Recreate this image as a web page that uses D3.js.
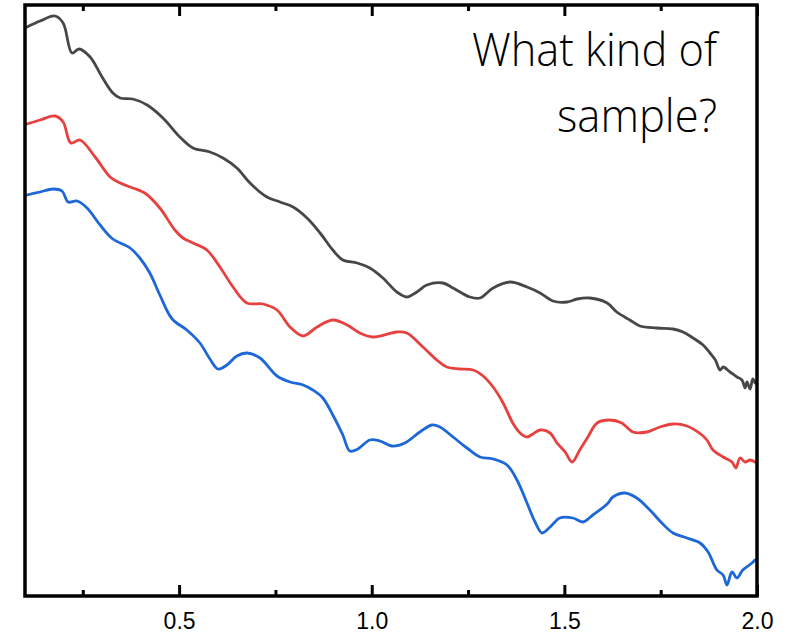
<!DOCTYPE html>
<html>
<head>
<meta charset="utf-8">
<script src="https://cdn.jsdelivr.net/npm/d3@7/dist/d3.min.js"></script>
<style>
  html, body { margin: 0; padding: 0; background: #fff; }
  svg { display: block; }
</style>
</head>
<body>
<svg id="chart" width="801" height="643"></svg>
<script>
// ---- Data (q in arbitrary units, intensity in arbitrary offset units) ----
const grayQ = [0.105,0.139,0.178,0.199,0.222,0.240,0.269,0.300,0.328,0.347,0.380,0.417,0.458,0.502,0.536,0.580,0.614,0.650,0.684,0.728,0.762,0.796,0.832,0.866,0.899,0.925,0.962,0.995,1.029,1.065,1.091,1.117,1.143,1.185,1.211,1.255,1.281,1.315,1.359,1.403,1.437,1.470,1.507,1.533,1.566,1.611,1.636,1.670,1.696,1.740,1.782,1.808,1.834,1.860,1.878,1.892,1.904,1.912,1.930,1.948,1.961,1.969,1.974,1.982,1.989,1.995];
const grayI = [5.69,5.75,5.80,5.73,5.43,5.47,5.39,5.19,5.03,4.98,4.97,4.91,4.78,4.59,4.48,4.44,4.38,4.28,4.13,3.99,3.94,3.89,3.78,3.63,3.46,3.36,3.33,3.28,3.18,3.04,2.99,3.04,3.11,3.13,3.08,2.99,2.98,3.08,3.14,3.09,3.03,2.95,2.94,2.97,2.98,2.93,2.84,2.76,2.70,2.68,2.67,2.64,2.58,2.51,2.43,2.36,2.26,2.29,2.24,2.19,2.16,2.08,2.14,2.07,2.17,2.13];

const redQ = [0.105,0.139,0.178,0.199,0.219,0.243,0.282,0.321,0.347,0.380,0.411,0.450,0.489,0.510,0.536,0.572,0.606,0.640,0.676,0.718,0.754,0.788,0.822,0.858,0.899,0.936,0.969,1.003,1.065,1.091,1.133,1.169,1.195,1.229,1.263,1.289,1.315,1.341,1.366,1.385,1.403,1.418,1.437,1.463,1.481,1.502,1.520,1.540,1.561,1.585,1.618,1.649,1.678,1.714,1.748,1.782,1.818,1.857,1.870,1.886,1.912,1.935,1.945,1.956,1.969,1.982,1.995];
const redI = [4.72,4.76,4.80,4.74,4.53,4.56,4.39,4.19,4.13,4.08,4.03,3.88,3.66,3.58,3.53,3.46,3.29,3.09,2.93,2.92,2.86,2.69,2.60,2.69,2.76,2.71,2.63,2.59,2.64,2.63,2.49,2.36,2.29,2.27,2.26,2.20,2.09,1.93,1.73,1.63,1.59,1.62,1.66,1.63,1.53,1.44,1.34,1.46,1.59,1.73,1.76,1.73,1.64,1.64,1.69,1.72,1.70,1.61,1.56,1.46,1.39,1.34,1.28,1.38,1.34,1.36,1.34];

const blueQ = [0.105,0.139,0.173,0.196,0.212,0.235,0.261,0.295,0.328,0.373,0.398,0.424,0.450,0.482,0.520,0.554,0.580,0.601,0.624,0.650,0.676,0.710,0.754,0.788,0.822,0.847,0.873,0.899,0.925,0.943,0.964,0.995,1.021,1.052,1.086,1.125,1.156,1.177,1.211,1.247,1.281,1.315,1.351,1.377,1.403,1.424,1.442,1.463,1.488,1.522,1.548,1.574,1.611,1.626,1.657,1.688,1.722,1.753,1.782,1.818,1.852,1.873,1.896,1.912,1.922,1.935,1.948,1.963,1.987,1.995];
const blueI = [4.01,4.04,4.07,4.05,3.94,3.95,3.88,3.71,3.57,3.48,3.38,3.23,3.01,2.77,2.66,2.53,2.37,2.27,2.31,2.40,2.43,2.38,2.20,2.14,2.11,2.06,1.98,1.81,1.61,1.45,1.47,1.56,1.55,1.50,1.53,1.64,1.71,1.69,1.59,1.48,1.39,1.37,1.31,1.16,0.93,0.74,0.63,0.69,0.78,0.78,0.74,0.81,0.92,0.99,1.03,0.98,0.86,0.73,0.63,0.58,0.53,0.44,0.26,0.21,0.11,0.24,0.18,0.26,0.33,0.36];

const majorTicks = [0.5, 1.0, 1.5, 2.0];
const minorTicks = [0.25, 0.75, 1.25, 1.75];
const tickLabels = ["0.5", "1.0", "1.5", "2.0"];
const annotation = ["What kind of", "sample?"];

const series = [
  { name: "gray", q: grayQ, I: grayI, color: "#474747" },
  { name: "red",  q: redQ,  I: redI,  color: "#e8403f" },
  { name: "blue", q: blueQ, I: blueI, color: "#1d67d8" }
];

// ---- Layout ----
const svg = d3.select("#chart");
const plotL = 25, plotR = 757, plotT = 5, plotB = 596;

const x = d3.scaleLinear().domain([0.1, 2.0]).range([plotL, plotR]);
const y = d3.scaleLinear().domain([0, 5.91]).range([plotB, plotT]);

svg.append("defs").append("clipPath").attr("id", "clip")
  .append("rect").attr("x", plotL).attr("y", plotT)
  .attr("width", plotR - plotL).attr("height", plotB - plotT);

const line = d3.line()
  .x(d => x(d[0]))
  .y(d => y(d[1]))
  .curve(d3.curveCatmullRom.alpha(0.5));

const g = svg.append("g").attr("clip-path", "url(#clip)");
series.forEach(s => {
  const pts = s.q.map((q, i) => [q, s.I[i]]);
  g.append("path")
    .datum(pts)
    .attr("fill", "none")
    .attr("stroke", s.color)
    .attr("stroke-width", 2.8)
    .attr("stroke-linejoin", "round")
    .attr("stroke-linecap", "round")
    .attr("d", line);
});

// ---- Axes ----
function styleAxis(sel) {
  sel.select(".domain").remove();
  sel.selectAll(".tick line").attr("stroke", "#000").attr("stroke-width", 3);
}

const bottomMajor = svg.append("g")
  .attr("transform", `translate(0,${plotB})`)
  .call(d3.axisBottom(x).tickValues(majorTicks)
    .tickSizeInner(-11).tickSizeOuter(0).tickPadding(17)
    .tickFormat((d, i) => tickLabels[i]));
styleAxis(bottomMajor);
bottomMajor.selectAll(".tick text")
  .attr("font-family", "'Liberation Sans', Arial, sans-serif")
  .attr("font-size", 23)
  .attr("fill", "#000");

const bottomMinor = svg.append("g")
  .attr("transform", `translate(0,${plotB})`)
  .call(d3.axisBottom(x).tickValues(minorTicks)
    .tickSizeInner(-6).tickSizeOuter(0).tickFormat(""));
styleAxis(bottomMinor);

const topMajor = svg.append("g")
  .attr("transform", `translate(0,${plotT})`)
  .call(d3.axisTop(x).tickValues(majorTicks)
    .tickSizeInner(-11).tickSizeOuter(0).tickFormat(""));
styleAxis(topMajor);

const topMinor = svg.append("g")
  .attr("transform", `translate(0,${plotT})`)
  .call(d3.axisTop(x).tickValues(minorTicks)
    .tickSizeInner(-6).tickSizeOuter(0).tickFormat(""));
styleAxis(topMinor);

// frame
svg.append("rect")
  .attr("x", plotL).attr("y", plotT)
  .attr("width", plotR - plotL).attr("height", plotB - plotT)
  .attr("fill", "none").attr("stroke", "#000").attr("stroke-width", 3.5);

// ---- Annotation ----
const ann = svg.append("g")
  .attr("font-family", "'Open Sans', 'Noto Sans', sans-serif")
  .attr("font-size", 46)
  .attr("font-weight", 300)
  .attr("fill", "#000")
  .attr("text-anchor", "end");
ann.append("text").attr("x", 717).attr("y", 66)
  .attr("textLength", 245).attr("lengthAdjust", "spacingAndGlyphs")
  .text(annotation[0]);
ann.append("text").attr("x", 717).attr("y", 132)
  .attr("textLength", 160).attr("lengthAdjust", "spacingAndGlyphs")
  .text(annotation[1]);
</script>
</body>
</html>
